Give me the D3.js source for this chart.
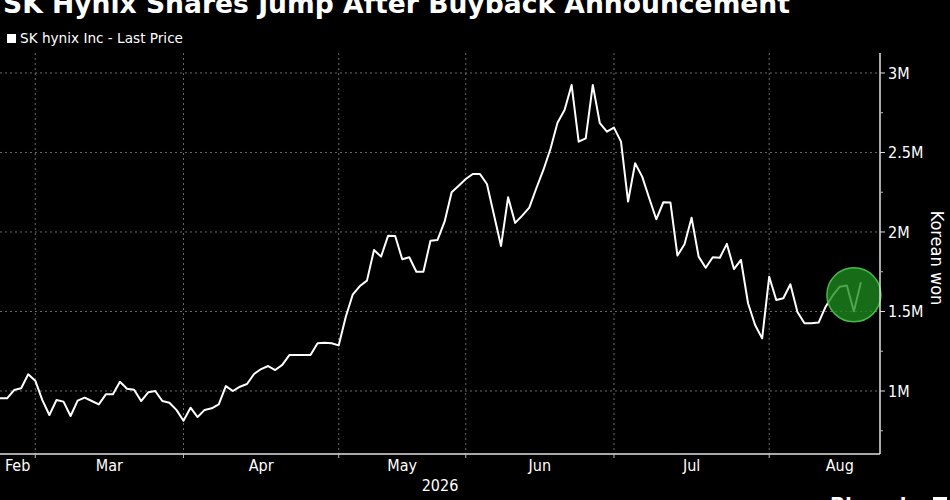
<!DOCTYPE html>
<html>
<head>
<meta charset="utf-8">
<script src="https://cdn.jsdelivr.net/npm/d3@7"></script>
<style>
  html, body { margin: 0; padding: 0; background: #000; }
  svg { display: block; }
  text { font-family: "DejaVu Sans Condensed", "DejaVu Sans", sans-serif; font-stretch: condensed; fill: #fff; }
</style>
</head>
<body>
<svg id="chart" width="950" height="500"></svg>
<script>
// ---- Data ----
const title = "SK Hynix Shares Jump After Buyback Announcement";
const seriesName = "SK hynix Inc - Last Price";
const axisTitle = "Korean won";
const yearLabel = "2026";

// Daily last price, millions of KRW (trading days, late Feb -> mid Aug)
const prices = [
  0.954, 0.954, 1.006, 1.017, 1.105, 1.065, 0.943, 0.849, 0.943, 0.933,
  0.843, 0.939, 0.958, 0.937, 0.916, 0.979, 0.979, 1.058, 1.014, 1.008,
  0.937, 0.992, 1.000, 0.937, 0.926, 0.881, 0.813, 0.895, 0.836, 0.881,
  0.891, 0.916, 1.031, 1.000, 1.027, 1.044, 1.107, 1.138, 1.157, 1.132,
  1.164, 1.226, 1.226, 1.226, 1.226, 1.300, 1.304, 1.300, 1.287, 1.467,
  1.608, 1.660, 1.694, 1.887, 1.845, 1.977, 1.975, 1.828, 1.841, 1.750,
  1.750, 1.945, 1.950, 2.065, 2.250, 2.291, 2.333, 2.365, 2.365, 2.302,
  2.107, 1.912, 2.218, 2.057, 2.103, 2.153, 2.275, 2.390, 2.522, 2.687,
  2.767, 2.925, 2.568, 2.589, 2.925, 2.684, 2.631, 2.656, 2.568, 2.191,
  2.432, 2.348, 2.212, 2.080, 2.187, 2.186, 1.852, 1.923, 2.090, 1.845,
  1.775, 1.841, 1.838, 1.925, 1.767, 1.824, 1.552, 1.415, 1.331, 1.719,
  1.572, 1.583, 1.671, 1.497, 1.426, 1.426, 1.430, 1.530, 1.601, 1.656,
  1.664, 1.501, 1.684
];

// Month labels and the trading-day index where each month begins
const monthLabels = ["Feb", "Mar", "Apr", "May", "Jun", "Jul", "Aug"];
const monthStarts = [0, 5, 26, 48, 66, 87, 109, 129]; // last value = end of Aug

const yMajorTicks = [1, 1.5, 2, 2.5, 3];
const yMajorLabels = ["1M", "1.5M", "2M", "2.5M", "3M"];
const yMinorTicks = [0.75, 1.25, 1.75, 2.25, 2.75];

// Highlight circle around the buyback reaction
const highlightIndex = 121;
const highlightValue = 1.605;

// ---- Layout ----
const svg = d3.select("#chart");
const plot = { left: 0, right: 880, top: 53, bottom: 454 };

const x = d3.scaleLinear().domain([0, 124.7]).range([plot.left, plot.right]);
const y = d3.scaleLinear().domain([0.6, 3.13]).range([454.6, 52.3]);

const gridColor = "#6a6a6a";

// Gridlines
const grid = svg.append("g");
grid.selectAll("line.h").data(yMajorTicks).join("line")
  .attr("x1", plot.left).attr("x2", plot.right)
  .attr("y1", d => y(d)).attr("y2", d => y(d))
  .attr("stroke", gridColor).attr("stroke-width", 1)
  .attr("stroke-dasharray", "2,3");
grid.selectAll("line.v").data(monthStarts.slice(1, 7)).join("line")
  .attr("x1", d => x(d)).attr("x2", d => x(d))
  .attr("y1", plot.top).attr("y2", plot.bottom)
  .attr("stroke", gridColor).attr("stroke-width", 1)
  .attr("stroke-dasharray", "2,3");

// Price line
const line = d3.line()
  .x((d, i) => x(i))
  .y(d => y(d));
svg.append("path")
  .datum(prices)
  .attr("d", line)
  .attr("fill", "none")
  .attr("stroke", "#ffffff")
  .attr("stroke-width", 2)
  .attr("stroke-linejoin", "round");

// Highlight circle
svg.append("circle")
  .attr("cx", x(highlightIndex))
  .attr("cy", y(highlightValue))
  .attr("r", 27)
  .attr("fill", "#1e8c1e")
  .attr("fill-opacity", 0.78)
  .attr("stroke", "#46b946")
  .attr("stroke-width", 1.5);

// Axes lines
svg.append("line")
  .attr("x1", plot.left).attr("x2", plot.right)
  .attr("y1", plot.bottom).attr("y2", plot.bottom)
  .attr("stroke", "#e0e0e0").attr("stroke-width", 1.5);
svg.append("line")
  .attr("x1", plot.right).attr("x2", plot.right)
  .attr("y1", plot.top).attr("y2", plot.bottom)
  .attr("stroke", "#e0e0e0").attr("stroke-width", 1.5);

// X ticks (month starts)
svg.append("g").selectAll("line").data(monthStarts.slice(1, 7)).join("line")
  .attr("x1", d => x(d)).attr("x2", d => x(d))
  .attr("y1", plot.bottom).attr("y2", plot.bottom + 4)
  .attr("stroke", "#bbbbbb").attr("stroke-width", 1);

// Month labels centred in each month span
svg.append("g").selectAll("text").data(monthLabels).join("text")
  .attr("x", (d, i) => (x(monthStarts[i]) + x(monthStarts[i + 1])) / 2)
  .attr("y", 471)
  .attr("text-anchor", "middle")
  .attr("font-size", 16)
  .attr("fill", "#e6e6e6")
  .text(d => d);

svg.append("text")
  .attr("x", 440).attr("y", 491)
  .attr("text-anchor", "middle")
  .attr("font-size", 16)
  .attr("fill", "#e6e6e6")
  .text(yearLabel);

// Y ticks
svg.append("g").selectAll("line").data(yMajorTicks).join("line")
  .attr("x1", plot.right).attr("x2", plot.right + 5)
  .attr("y1", d => y(d)).attr("y2", d => y(d))
  .attr("stroke", "#e0e0e0").attr("stroke-width", 1);
svg.append("g").selectAll("line").data(yMinorTicks).join("line")
  .attr("x1", plot.right).attr("x2", plot.right + 3)
  .attr("y1", d => y(d)).attr("y2", d => y(d))
  .attr("stroke", "#bbbbbb").attr("stroke-width", 1);
svg.append("g").selectAll("text").data(yMajorTicks).join("text")
  .attr("x", plot.right + 8)
  .attr("y", d => y(d))
  .attr("dy", "0.36em")
  .attr("font-size", 16)
  .attr("fill", "#e6e6e6")
  .text((d, i) => yMajorLabels[i]);

// Y axis title (rotated, reads top to bottom)
svg.append("text")
  .attr("transform", "translate(931,258) rotate(90)")
  .attr("text-anchor", "middle")
  .attr("font-size", 18)
  .attr("fill", "#f0f0f0")
  .text(axisTitle);

// Title (partially cropped at top)
svg.append("text")
  .attr("x", 3).attr("y", 13)
  .attr("font-family", "'DejaVu Sans', sans-serif")
  .style("font-stretch", "normal")
  .attr("font-weight", "bold")
  .attr("font-size", 27)
  .attr("textLength", 787)
  .attr("lengthAdjust", "spacingAndGlyphs")
  .text(title);

// Legend
svg.append("rect")
  .attr("x", 7).attr("y", 34).attr("width", 9).attr("height", 9)
  .attr("fill", "#ffffff");
svg.append("text")
  .attr("x", 20).attr("y", 43)
  .attr("font-size", 14)
  .attr("textLength", 163)
  .attr("lengthAdjust", "spacingAndGlyphs")
  .attr("fill", "#f0f0f0")
  .text(seriesName);

// Source logo text (cropped at bottom)
svg.append("text")
  .attr("x", 830).attr("y", 513)
  .attr("font-family", "'DejaVu Sans', sans-serif")
  .attr("font-weight", "bold")
  .attr("font-size", 22)
  .text("Bloomberg");
svg.append("rect")
  .attr("x", 933).attr("y", 497).attr("width", 14).attr("height", 14)
  .attr("fill", "#ffffff");
</script>
</body>
</html>
